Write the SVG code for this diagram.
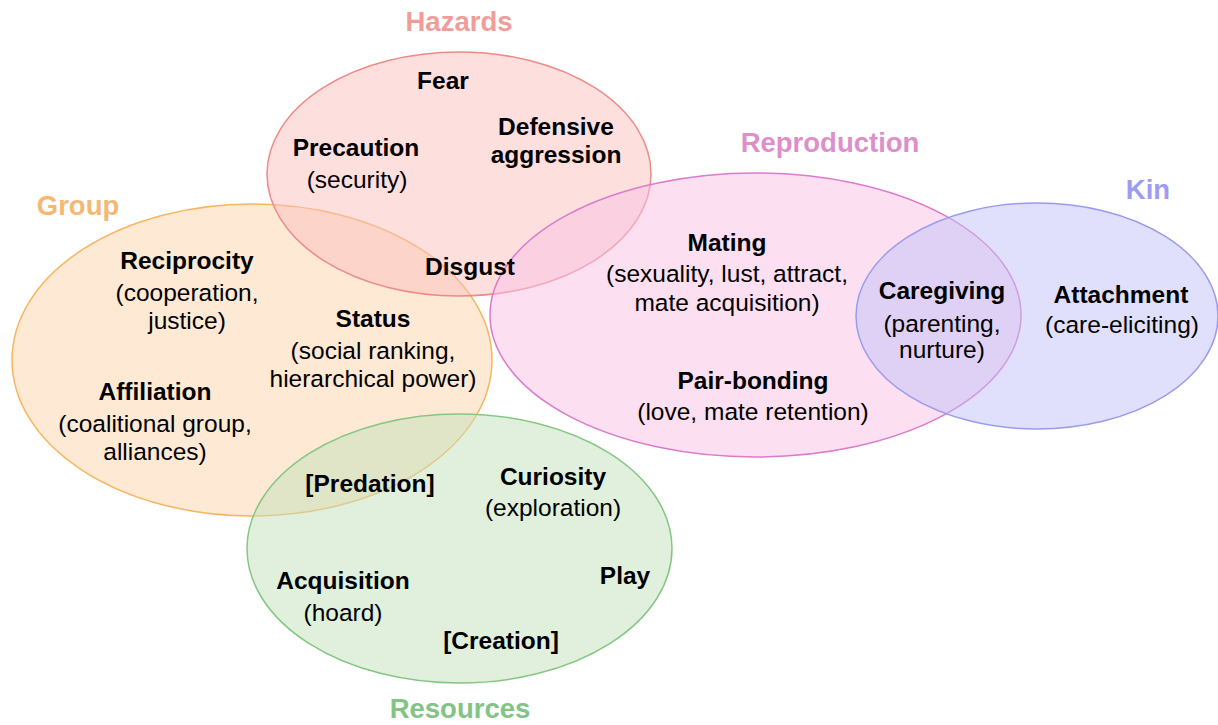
<svg xmlns="http://www.w3.org/2000/svg" width="1218" height="725" viewBox="0 0 1218 725">
<style>
  .set { stroke-width: 1.5; fill-opacity: 0.5; }
  .t { font-family: "Liberation Sans", Arial, Helvetica, sans-serif; font-size: 24.5px; fill: #000; text-anchor: middle; }
  .b { font-weight: bold; }
  .title { font-family: "Liberation Sans", Arial, Helvetica, sans-serif; font-size: 27.5px; font-weight: bold; text-anchor: middle; }
</style>
<rect width="1218" height="725" fill="#ffffff"/>
<g id="sets">
  <g id="set-group"><ellipse class="set" cx="252" cy="360" rx="240" ry="156" fill="#fdd3aa" stroke="#f6b560"/></g>
  <g id="set-hazards"><ellipse class="set" cx="459" cy="174" rx="192" ry="122" fill="#fbbfbd" stroke="#ee8a88"/></g>
  <g id="set-reproduction"><ellipse class="set" cx="755.5" cy="315" rx="265.5" ry="142" fill="#f9c1e4" stroke="#dc7acb"/></g>
  <g id="set-kin"><ellipse class="set" cx="1037" cy="316" rx="181" ry="113" fill="#c1c1f9" stroke="#9b9bee"/></g>
  <g id="set-resources"><ellipse class="set" cx="459.5" cy="548.5" rx="212.5" ry="134.5" fill="#c3e1b9" stroke="#84c783"/></g>
</g>
<g id="titles">
  <text class="title" x="459" y="31" fill="#f29c9a">Hazards</text>
  <text class="title" x="78" y="215" fill="#f5b874">Group</text>
  <text class="title" x="830" y="152" fill="#de8fcb">Reproduction</text>
  <text class="title" x="1148" y="199" fill="#9d9cf4">Kin</text>
  <text class="title" x="460" y="718" fill="#82c485">Resources</text>
</g>
<g id="labels">
  <g id="fear"><text class="t b" x="443" y="89">Fear</text></g>
  <g id="defensive-aggression"><text class="t b" x="556" y="135">Defensive</text><text class="t b" x="556" y="163">aggression</text></g>
  <g id="precaution"><text class="t b" x="356" y="156">Precaution</text><text class="t" x="357" y="188">(security)</text></g>
  <g id="disgust"><text class="t b" x="470" y="275">Disgust</text></g>
  <g id="reciprocity"><text class="t b" x="187" y="269">Reciprocity</text><text class="t" x="187" y="301">(cooperation,</text><text class="t" x="187" y="329">justice)</text></g>
  <g id="status"><text class="t b" x="373" y="327">Status</text><text class="t" x="373" y="359">(social ranking,</text><text class="t" x="373" y="387">hierarchical power)</text></g>
  <g id="affiliation"><text class="t b" x="155" y="400">Affiliation</text><text class="t" x="155" y="432">(coalitional group,</text><text class="t" x="155" y="460">alliances)</text></g>
  <g id="mating"><text class="t b" x="727" y="251">Mating</text><text class="t" x="727" y="282">(sexuality, lust, attract,</text><text class="t" x="727" y="311">mate acquisition)</text></g>
  <g id="pair-bonding"><text class="t b" x="753" y="389">Pair-bonding</text><text class="t" x="753" y="420">(love, mate retention)</text></g>
  <g id="caregiving"><text class="t b" x="942" y="299">Caregiving</text><text class="t" x="942" y="332">(parenting,</text><text class="t" x="942" y="358">nurture)</text></g>
  <g id="attachment"><text class="t b" x="1121" y="303">Attachment</text><text class="t" x="1122" y="333">(care-eliciting)</text></g>
  <g id="predation"><text class="t b" x="370" y="492">[Predation]</text></g>
  <g id="curiosity"><text class="t b" x="553" y="485">Curiosity</text><text class="t" x="553" y="516">(exploration)</text></g>
  <g id="play"><text class="t b" x="625" y="584">Play</text></g>
  <g id="acquisition"><text class="t b" x="343" y="589">Acquisition</text><text class="t" x="343" y="621">(hoard)</text></g>
  <g id="creation"><text class="t b" x="501" y="649">[Creation]</text></g>
</g>
<g id="connectors"></g>
</svg>
